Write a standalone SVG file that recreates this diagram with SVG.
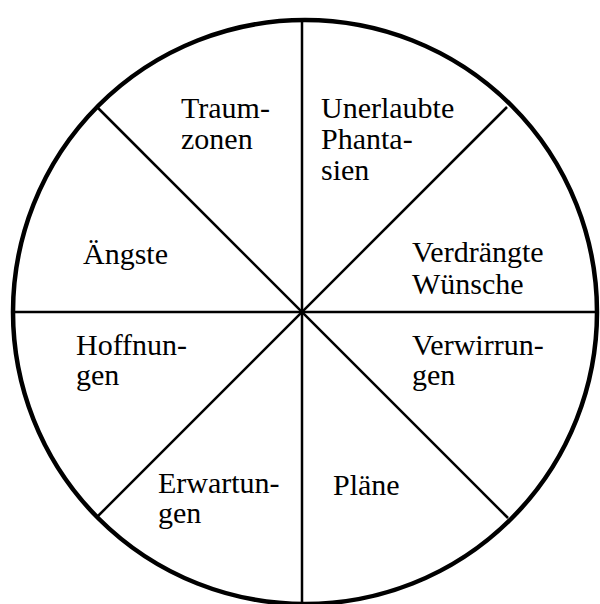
<svg xmlns="http://www.w3.org/2000/svg" width="600" height="604" viewBox="0 0 600 604">
<style>
.lbl{font-family:"Liberation Serif","Times New Roman",serif;font-size:30px;fill:#000}
.ln{stroke:#000;stroke-width:2.5;fill:none}
</style>
<rect width="600" height="604" fill="#fff"/>
<g id="circle"><circle cx="305" cy="312" r="292" fill="none" stroke="#000" stroke-width="4.5"/></g>
<g id="connectors">
<line class="ln" x1="302" y1="20" x2="302" y2="604"/>
<line class="ln" x1="13" y1="312" x2="597" y2="312"/>
<line class="ln" x1="97" y1="107" x2="508" y2="518"/>
<line class="ln" x1="507" y1="107" x2="97" y2="517"/>
</g>
<g id="traumzonen"><text class="lbl" x="181" y="118">Traum-</text><text class="lbl" x="181" y="149">zonen</text></g>
<g id="phantasien"><text class="lbl" x="321" y="118">Unerlaubte</text><text class="lbl" x="321" y="149">Phanta-</text><text class="lbl" x="321" y="180">sien</text></g>
<g id="aengste"><text class="lbl" x="83" y="264">Ängste</text></g>
<g id="wuensche"><text class="lbl" x="412" y="262">Verdrängte</text><text class="lbl" x="412" y="294">Wünsche</text></g>
<g id="hoffnungen"><text class="lbl" x="76" y="355">Hoffnun-</text><text class="lbl" x="76" y="385">gen</text></g>
<g id="verwirrungen"><text class="lbl" x="412" y="355">Verwirrun-</text><text class="lbl" x="412" y="385">gen</text></g>
<g id="erwartungen"><text class="lbl" x="158" y="493">Erwartun-</text><text class="lbl" x="158" y="523">gen</text></g>
<g id="plaene"><text class="lbl" x="333" y="495">Pläne</text></g>
</svg>
